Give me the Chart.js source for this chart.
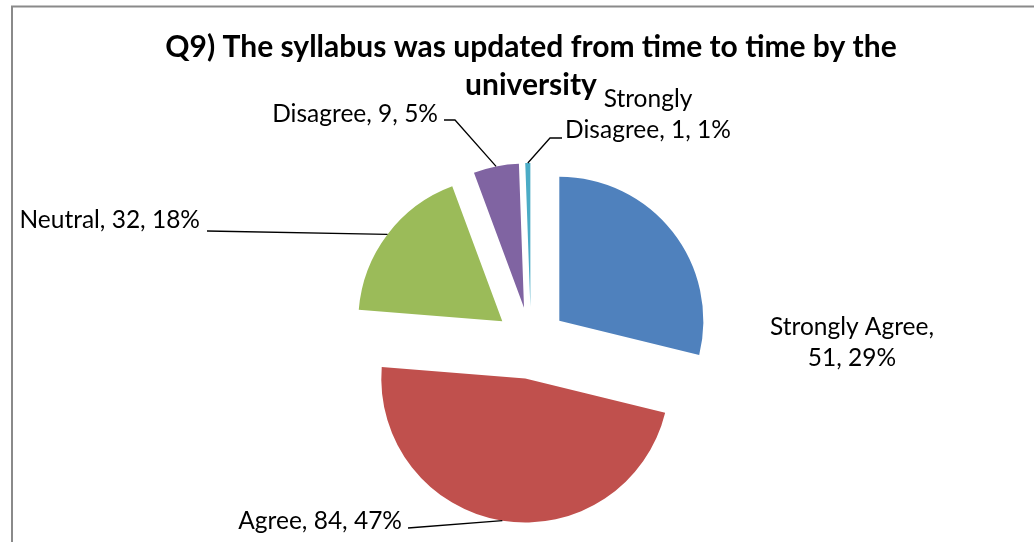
<!DOCTYPE html>
<html>
<head>
<meta charset="utf-8">
<script src="https://cdn.jsdelivr.net/npm/chart.js@4.4.1/dist/chart.umd.min.js"></script>
<style>
  html, body { margin: 0; padding: 0; background: #fff; }
  #wrap { position: relative; width: 1034px; height: 542px; }
</style>
</head>
<body>
<div id="wrap"><canvas id="pie_chart"></canvas></div>
<script>
var categories = ['Strongly Agree', 'Agree', 'Neutral', 'Disagree', 'Strongly Disagree']
var responses  = [51, 84, 32, 9, 1]
var colors     = ['#4F81BD', '#C0504D', '#9BBB59', '#8064A2', '#4BACC6']
var titleLines = ['Q9) The syllabus was updated from time to time by the', 'university']

// Where each data label sits (like labels dragged by hand in excel)
var labelLayout = [
    { align: 'center', x: 852, y: 335, wrap: 2, leader: null },
    { align: 'right',  x: 402, y: 529, leader: [[408, 528]] },
    { align: 'right',  x: 200, y: 228, leader: [[207, 231]] },
    { align: 'right',  x: 438, y: 122, leader: [[444, 120], [455, 120]] },
    { align: 'center', x: 648, y: 107, wrap: 1, leader: [[562, 138], [550, 138]] }
]

var FONT = 'Lato, "Open Sans", sans-serif'

// Push every slice out from the centre along its middle angle
var explodePlugin = {
    id: 'explode',
    afterDatasetUpdate: function (chart, args, opts) {
        args.meta.data.forEach(function (arc) {
            var mid = (arc.startAngle + arc.endAngle) / 2
            arc.x += Math.cos(mid) * opts.distance
            arc.y += Math.sin(mid) * opts.distance
        })
    }
}

// Grey frame of the chart object
var framePlugin = {
    id: 'frame',
    beforeDraw: function (chart) {
        var ctx = chart.ctx
        ctx.save()
        ctx.strokeStyle = '#8a8a8a'
        ctx.lineWidth = 2
        ctx.strokeRect(12, 6.5, 1100, 700)
        ctx.restore()
    }
}

// Data labels "Category, value, pct%" with leader lines
var labelPlugin = {
    id: 'pieLabels',
    afterDatasetsDraw: function (chart) {
        var ctx = chart.ctx
        var meta = chart.getDatasetMeta(0)
        var total = responses.reduce(function (a, b) { return a + b }, 0)

        ctx.save()
        ctx.font = '24.5px ' + FONT
        ctx.fillStyle = '#000'
        ctx.strokeStyle = '#000'
        ctx.lineWidth = 1.3
        ctx.textBaseline = 'alphabetic'

        meta.data.forEach(function (arc, i) {
            var layout = labelLayout[i]
            var pct = Math.round(responses[i] / total * 100)
            var text = categories[i] + ', ' + responses[i] + ', ' + pct + '%'
            var lines = [text]
            if (layout.wrap) {
                var words = text.split(' ')
                lines = [words.slice(0, layout.wrap).join(' '), words.slice(layout.wrap).join(' ')]
            }

            ctx.textAlign = layout.align
            lines.forEach(function (line, j) {
                ctx.fillText(line, layout.x, layout.y + j * 31)
            })

            if (layout.leader) {
                var mid = (arc.startAngle + arc.endAngle) / 2
                var px = arc.x + Math.cos(mid) * arc.outerRadius
                var py = arc.y + Math.sin(mid) * arc.outerRadius
                ctx.beginPath()
                ctx.moveTo(layout.leader[0][0], layout.leader[0][1])
                layout.leader.slice(1).forEach(function (p) { ctx.lineTo(p[0], p[1]) })
                ctx.lineTo(px, py)
                ctx.stroke()
            }
        })
        ctx.restore()
    }
}

var ctx = document.getElementById('pie_chart')

var chart = new Chart(ctx, {
    type: 'pie',
    data: {
        labels: categories,
        datasets: [{
            data: responses,
            backgroundColor: colors,
            borderWidth: 0,
            clip: false
        }]
    },
    plugins: [framePlugin, explodePlugin, labelPlugin],
    options: {
        responsive: true,
        maintainAspectRatio: false,
        animation: false,
        events: [],
        radius: 144,
        layout: {
            padding: { left: 28, right: 0, top: 0, bottom: 0 }
        },
        plugins: {
            legend: { display: false },
            tooltip: { enabled: false },
            explode: { distance: 36 },
            title: {
                display: true,
                text: titleLines,
                color: '#000',
                font: { family: FONT, size: 30, weight: 'bold', lineHeight: 38 / 30 },
                padding: { top: 28, bottom: 40 }
            }
        }
    }
})
</script>
</body>
</html>
